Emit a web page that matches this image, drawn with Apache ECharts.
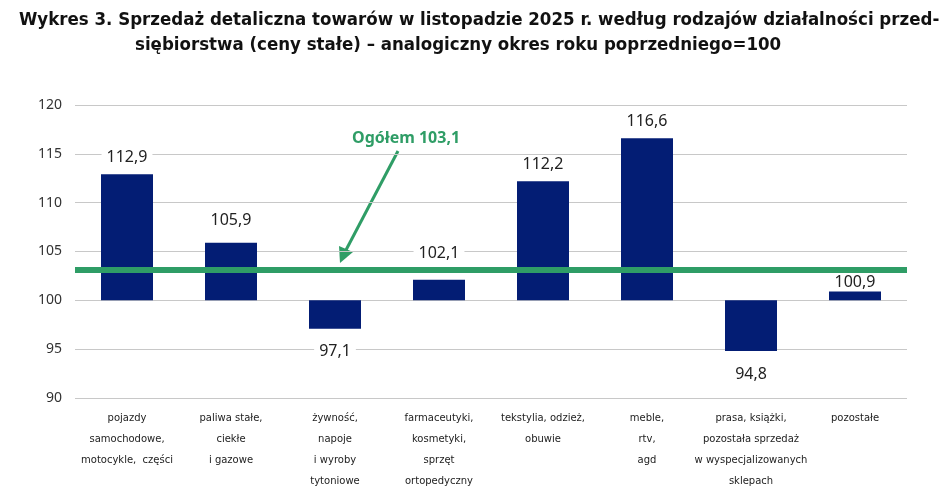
<!DOCTYPE html>
<html>
<head>
<meta charset="utf-8">
<script src="https://cdn.jsdelivr.net/npm/echarts@6/dist/echarts.min.js"></script>
<style>
  html, body { margin: 0; padding: 0; background: #fff; }
  #main { width: 948px; height: 497px; }
</style>
</head>
<body>
<div id="main"></div>
<script>
// dane z wykresu (analogiczny okres roku poprzedniego = 100)
var categories = [
  'pojazdy\nsamochodowe,\nmotocykle,  części',
  'paliwa stałe,\nciekłe\ni gazowe',
  'żywność,\nnapoje\ni wyroby\ntytoniowe',
  'farmaceutyki,\nkosmetyki,\nsprzęt\nortopedyczny',
  'tekstylia, odzież,\nobuwie',
  'meble,\nrtv,\nagd',
  'prasa, książki,\npozostała sprzedaż\nw wyspecjalizowanych\nsklepach',
  'pozostałe'
];
var values = [112.9, 105.9, 97.1, 102.1, 112.2, 116.6, 94.8, 100.9];
var ogolem = 103.1;
var base = 100;
var yTicks = [90, 95, 100, 105, 110, 115, 120];
// odstęp etykiet od słupków (jak w oryginale)
var labelGap = [9, 14, 15, 18, 9, 9, 15, 1];

var fmt = function (v) { return v.toFixed(1).replace('.', ','); };
var titleFont = '"DejaVu Sans Condensed", "Liberation Sans Narrow", "Roboto Condensed", "Noto Sans", sans-serif';

var chart = echarts.init(document.getElementById('main'));

var barData = values.map(function (v, i) {
  return {
    value: +(v - base).toFixed(2),
    label: { position: v >= base ? 'top' : 'bottom', distance: labelGap[i] }
  };
});

chart.setOption({
  animation: false,
  title: [
    {
      text: 'Wykres 3. Sprzedaż detaliczna towarów w listopadzie 2025 r. według rodzajów działalności przed-',
      left: 14, top: 6,
      textStyle: { fontFamily: titleFont, fontWeight: 'bold', fontSize: 18.5, color: '#111' }
    },
    {
      text: 'siębiorstwa (ceny stałe) – analogiczny okres roku poprzedniego=100',
      left: 130, top: 31,
      textStyle: { fontFamily: titleFont, fontWeight: 'bold', fontSize: 18.5, color: '#111' }
    }
  ],
  grid: { left: 75, right: 41, top: 105, bottom: 99, containLabel: false },
  xAxis: {
    type: 'category',
    data: categories,
    axisLine: { show: false },
    axisTick: { show: false },
    axisLabel: {
      interval: 0,
      margin: 10,
      fontFamily: 'DejaVu Sans',
      fontSize: 10,
      lineHeight: 21,
      color: '#222'
    }
  },
  yAxis: {
    type: 'value',
    min: yTicks[0] - base,
    max: yTicks[yTicks.length - 1] - base,
    interval: 5,
    axisLine: { show: false },
    axisTick: { show: false },
    axisLabel: {
      margin: 13,
      fontFamily: 'Noto Sans',
      fontSize: 14,
      color: '#333',
      formatter: function (v) { return String(v + base); }
    },
    splitLine: { lineStyle: { color: '#c8c8c8', width: 1 } }
  },
  series: [
    {
      type: 'bar',
      data: barData,
      barWidth: '50%',
      itemStyle: { color: '#031d74' },
      label: {
        show: true,
        fontFamily: 'Noto Sans',
        fontSize: 16,
        color: '#222',
        backgroundColor: '#fff',
        padding: [0, 5],
        formatter: function (p) { return fmt(values[p.dataIndex]); }
      },
      markLine: {
        silent: true,
        symbol: ['none', 'none'],
        label: { show: false },
        lineStyle: { color: '#2f9d66', width: 6, type: 'solid' },
        data: [{ yAxis: +(ogolem - base).toFixed(2) }]
      }
    }
  ],
  graphic: [
    {
      type: 'text',
      left: 352, top: 130,
      style: {
        text: 'Ogółem ' + fmt(ogolem),
        fontFamily: 'Noto Sans',
        fontWeight: 'bold',
        fontSize: 16,
        fill: '#2f9d66'
      }
    },
    {
      type: 'line',
      shape: { x1: 398, y1: 151, x2: 346, y2: 250 },
      style: { stroke: '#2f9d66', lineWidth: 3 }
    },
    {
      type: 'polygon',
      shape: { points: [[340, 263], [353, 252], [339, 246]] },
      style: { fill: '#2f9d66' }
    }
  ]
});
</script>
</body>
</html>
